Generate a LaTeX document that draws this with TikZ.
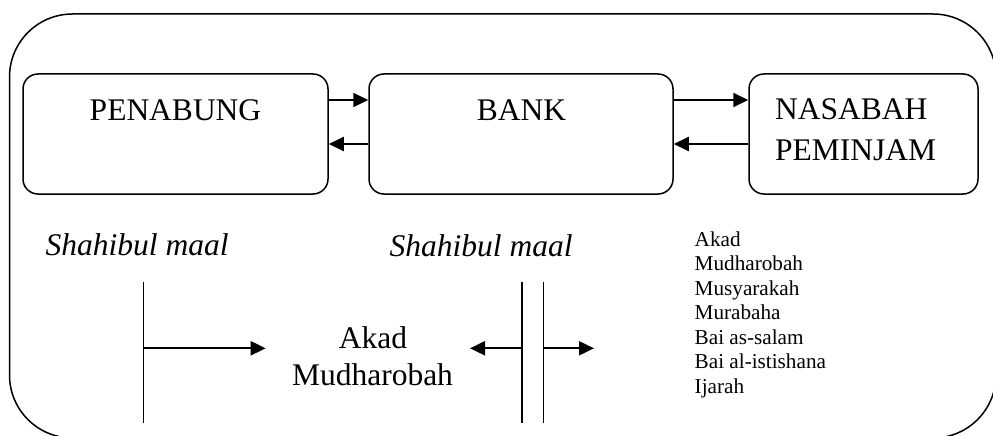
\documentclass[tikz,border=0pt]{standalone}
\usepackage{fontspec}
\setmainfont{Liberation Serif}
\usetikzlibrary{arrows.meta}
\begin{document}
\begin{tikzpicture}[x=1pt,y=-1pt,
  box/.style={draw, line width=1.5pt, rounded corners=15pt, minimum width=#1, minimum height=120pt, inner sep=0pt},
  big/.style={font=\fontsize{31.5}{37}\selectfont, inner sep=0pt},
  small/.style={font=\fontsize{21.2}{24.6}\selectfont, inner sep=0pt, anchor=base west},
  arr/.style={line width=2pt, -{Triangle[length=15pt,width=14pt]}},
  vline/.style={line width=1.5pt}]
\clip (0,0) rectangle (993,436);
\draw[line width=1.5pt, rounded corners=63pt] (9.5,14) rectangle (996,438);

% boxes
\node[box=305pt] (pen) at (175.5,134) {};
\node[box=304pt] (bank) at (521,134) {};
\node[box=229pt] (nas) at (863.5,134) {};

\node[big, anchor=base] (tpen) at (175.5,120) {PENABUNG};
\node[big, anchor=base] (tbank) at (521.5,120.5) {BANK};
\node[big, anchor=base west] (tnas1) at (775,119) {NASABAH};
\node[big, anchor=base west] (tnas2) at (775,160.5) {PEMINJAM};

% arrows between boxes
\draw[arr] ([yshift=34pt]pen.east) -- ([yshift=34pt]bank.west);
\draw[arr] ([yshift=-10pt]bank.west) -- ([yshift=-10pt]pen.east);
\draw[arr] ([yshift=34pt]bank.east) -- ([yshift=34pt]nas.west);
\draw[arr] ([yshift=-10pt]nas.west) -- ([yshift=-10pt]bank.east);

% Shahibul maal
\node[big, anchor=base west] (sm1) at (45.5,255) {\itshape Shahibul maal};
\node[big, anchor=base west] (sm2) at (389.5,256) {\itshape Shahibul maal};

% Akad Mudharobah
\node[big, anchor=base] (akad1) at (373,348) {Akad};
\node[big, anchor=base] (akad2) at (372.5,385) {Mudharobah};

% bottom lines and arrows
\coordinate (a1) at (143.3,282);
\coordinate (a2) at (143.3,423);
\coordinate (a3) at (143.3,348.3);
\coordinate (a4) at (265.7,348.3);
\draw[vline] (a1) -- (a2);
\draw[arr] (a3) -- (a4);

\coordinate (b1) at (522,282);
\coordinate (b2) at (522,423);
\coordinate (c1) at (543.3,282);
\coordinate (c2) at (543.3,423);
\coordinate (b3) at (522,348.3);
\coordinate (b4) at (470,348.3);
\coordinate (c3) at (543.3,348.3);
\coordinate (c4) at (594,348.3);
\draw[vline] (b1) -- (b2);
\draw[vline] (c1) -- (c2);
\draw[arr] (b3) -- (b4);
\draw[arr] (c3) -- (c4);

% list
\node[small] (l1) at (694.5,246) {Akad};
\node[small] (l2) at (694.5,270.7) {Mudharobah};
\node[small] (l3) at (694.5,295) {Musyarakah};
\node[small] (l4) at (694.5,319.3) {Murabaha};
\node[small] (l5) at (694.5,344) {Bai as-salam};
\node[small] (l6) at (694.5,368.7) {Bai al-istishana};
\node[small] (l7) at (694.5,393.3) {Ijarah};
\end{tikzpicture}
\end{document}
